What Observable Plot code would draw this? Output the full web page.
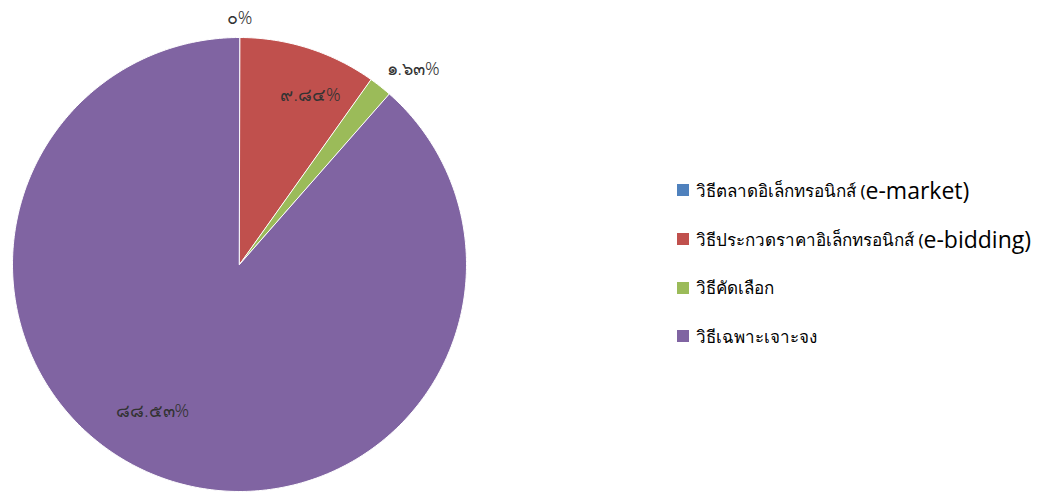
<!DOCTYPE html>
<html>
<head>
<meta charset="utf-8">
<script src="https://cdn.jsdelivr.net/npm/d3@7"></script>
<script src="https://cdn.jsdelivr.net/npm/@observablehq/plot@0.6"></script>
<style>
  html, body { margin: 0; padding: 0; background: #fff; }
  #wrap { position: relative; width: 1042px; height: 493px; overflow: hidden; }
  #legend { position: absolute; left: 677px; top: 166px; font-family: "Noto Sans", "DejaVu Sans", sans-serif; color: #000; }
  .item { display: flex; align-items: center; height: 48.7px; white-space: nowrap; }
  .sw { width: 12px; height: 12px; margin-right: 7px; flex: none; }
  .th { font-size: 17px; }
  .en { font-size: 23px; font-family: "Open Sans", "Noto Sans", sans-serif; }
</style>
</head>
<body>
<div id="wrap">
  <div id="chart"></div>
  <div id="legend"></div>
</div>
<script>
const categories = ["วิธีตลาดอิเล็กทรอนิกส์", "วิธีประกวดราคาอิเล็กทรอนิกส์", "วิธีคัดเลือก", "วิธีเฉพาะเจาะจง"];
const categoryLatin = ["(e-market)", "(e-bidding)", "", ""];
const shares = [0, 9.84, 1.63, 88.53];
const colors = ["#4F81BD", "#C0504D", "#9BBB59", "#8064A2"];

const thaiDigits = "๐๑๒๓๔๕๖๗๘๙";
const toThai = s => s.replace(/[0-9]/g, d => thaiDigits[+d]);
const fmt = v => toThai((Math.round(v * 100) / 100).toString()) + "%";

const total = d3.sum(shares);
let acc = 0;
const slices = shares.map((v, i) => {
  const a0 = acc / total * 2 * Math.PI;
  acc += v;
  const a1 = acc / total * 2 * Math.PI;
  return {i, name: categories[i], value: v, a0, a1};
});

// polygons in a unit-circle plane (y downward, clockwise from 12 o'clock)
const pt = (a, r) => [r * Math.sin(a), -r * Math.cos(a)];
const features = slices.map(s => {
  const n = Math.max(2, Math.ceil((s.a1 - s.a0) / (Math.PI / 180)));
  const ring = [[0, 0]];
  for (let k = 0; k <= n; k++) ring.push(pt(s.a0 + (s.a1 - s.a0) * k / n, 1));
  ring.push([0, 0]);
  return {type: "Feature", properties: {i: s.i, name: s.name}, geometry: {type: "Polygon", coordinates: [ring]}};
});

// label layout (best-fit style placement)
const labelR = [1.085, 0.81, 1.15, 0.75];
const labelDA = [0, 5, 3.3, 10].map(d => d * Math.PI / 180);
const labels = slices.map((s, k) => {
  const [x, y] = pt((s.a0 + s.a1) / 2 + labelDA[k], labelR[k]);
  return {x, y, text: fmt(s.value)};
});

const bounds = {type: "MultiPoint", coordinates: [[-1, -1], [1, 1]]};

const chart = Plot.plot({
  width: 1042,
  height: 493,
  marginLeft: 12,
  marginRight: 576,
  marginTop: 37,
  marginBottom: 2,
  projection: {type: "identity", domain: bounds, clip: false},
  marks: [
    Plot.geo(features, {fill: d => colors[d.properties.i], stroke: "#fff", strokeWidth: 1}),
    Plot.text(labels, {x: "x", y: "y", text: "text", fontSize: 18, fontWeight: 300, fill: "#333", fontFamily: "'Noto Sans', 'DejaVu Sans', sans-serif", clip: false})
  ]
});
document.getElementById("chart").appendChild(chart);

const legend = document.getElementById("legend");
categories.forEach((c, i) => {
  const row = document.createElement("div");
  row.className = "item";
  row.innerHTML = `<span class="sw" style="background:${colors[i]}"></span><span class="th">${c}</span>` +
    (categoryLatin[i] ? `<span class="th">&nbsp;(</span><span class="en">${categoryLatin[i].slice(1)}</span>` : "");
  legend.appendChild(row);
});
</script>
</body>
</html>
